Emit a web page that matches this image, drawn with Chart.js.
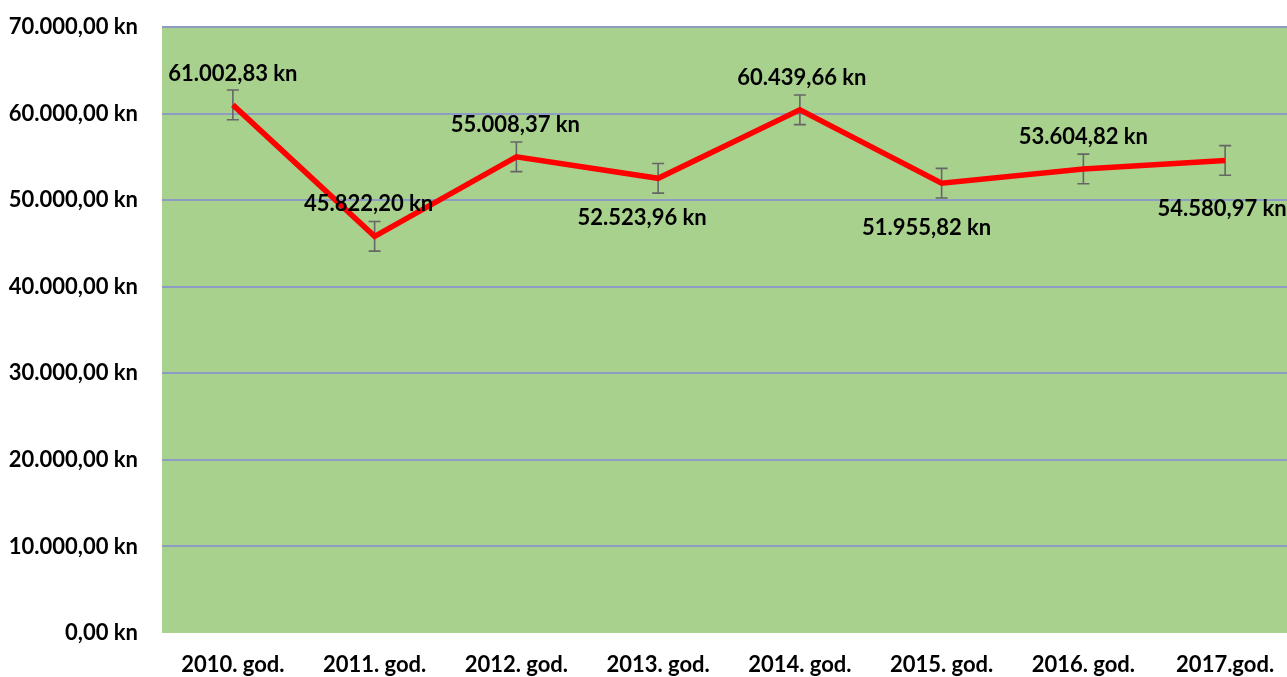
<!DOCTYPE html>
<html>
<head>
<meta charset="utf-8">
<script src="https://cdn.jsdelivr.net/npm/chart.js@4/dist/chart.umd.min.js"></script>
<style>
  html,body{margin:0;padding:0;background:#fff;overflow:hidden;}
  #wrap{width:1300px;height:677px;}
</style>
</head>
<body>
<div id="wrap"><canvas id="chart" width="1300" height="677"></canvas></div>
<script>
const years=["2010. god.","2011. god.","2012. god.","2013. god.","2014. god.","2015. god.","2016. god.","2017.god."];
const amounts=[61002.83,45822.20,55008.37,52523.96,60439.66,51955.82,53604.82,54580.97];
const yTicks=[0,10000,20000,30000,40000,50000,60000,70000];
const errorAmount=1712; // standard error, same for every point
// where each value label sits relative to its point [dx, dy]
const labelShift=[[0,-31],[-6,-32],[-1,-32],[-16,40],[2,-32],[-15,45],[0,-32],[-3,48]];

const fontFam="Lato, 'Open Sans', sans-serif";
const fmt=(v)=>{
    let parts=v.toFixed(2).split(".");
    parts[0]=parts[0].replace(/\B(?=(\d{3})+(?!\d))/g,".");
    return parts[0]+","+parts[1]+" kn";
};

const plotBg={
    id:'plotBg',
    beforeDraw:(chart)=>{
        const {ctx,chartArea:a}=chart;
        ctx.save();
        ctx.fillStyle='#A9D18E';
        ctx.fillRect(a.left,a.top,a.right-a.left,a.bottom-a.top);
        ctx.restore();
    }
};

const errorBars={
    id:'errorBars',
    beforeDatasetsDraw:(chart)=>{
        const ctx=chart.ctx;
        const xs=chart.scales.x, ys=chart.scales.y;
        ctx.save();
        ctx.strokeStyle='#666666';
        ctx.lineWidth=1.6;
        amounts.forEach((v,i)=>{
            let x=xs.getPixelForValue(i);
            let t=ys.getPixelForValue(v+errorAmount);
            let b=ys.getPixelForValue(v-errorAmount);
            ctx.beginPath();
            ctx.moveTo(x,t);ctx.lineTo(x,b);
            ctx.moveTo(x-6,t);ctx.lineTo(x+6,t);
            ctx.moveTo(x-6,b);ctx.lineTo(x+6,b);
            ctx.stroke();
        });
        ctx.restore();
    }
};

const valueLabels={
    id:'valueLabels',
    afterDatasetsDraw:(chart)=>{
        const ctx=chart.ctx;
        const xs=chart.scales.x, ys=chart.scales.y;
        ctx.save();
        ctx.font="bold 22px "+fontFam;
        ctx.fillStyle='#000';
        ctx.textAlign='center';
        ctx.textBaseline='middle';
        amounts.forEach((v,i)=>{
            let x=xs.getPixelForValue(i)+labelShift[i][0];
            let y=ys.getPixelForValue(v)+labelShift[i][1];
            ctx.fillText(fmt(v),x,y);
        });
        ctx.restore();
    }
};

new Chart(document.getElementById('chart'),{
    type:'line',
    data:{
        labels:years,
        datasets:[{
            data:amounts,
            borderColor:'#FF0000',
            borderWidth:5.5,
            pointRadius:0,
            tension:0,
            fill:false
        }]
    },
    options:{
        responsive:false,
        animation:false,
        layout:{padding:{top:27,right:4,left:0,bottom:0}},
        plugins:{legend:{display:false},tooltip:{enabled:false}},
        scales:{
            x:{
                offset:true,
                grid:{display:false},
                border:{display:false},
                afterFit:(axis)=>{axis.height=44;},
                ticks:{color:'#000',font:{family:fontFam,size:22,weight:'bold'},padding:11,maxRotation:0,autoSkip:false}
            },
            y:{
                min:0,max:70000,
                afterBuildTicks:(axis)=>{axis.ticks=yTicks.map(v=>({value:v}));},
                afterFit:(axis)=>{axis.width=162;axis.paddingTop=0;axis.paddingBottom=0;},
                grid:{
                    color:(c)=>c.tick&&c.tick.value===0?'rgba(0,0,0,0)':'#8C9CC2',
                    lineWidth:2,
                    drawTicks:false
                },
                border:{display:false},
                ticks:{color:'#000',font:{family:fontFam,size:22,weight:'bold'},padding:24,callback:(v)=>fmt(v)}
            }
        }
    },
    plugins:[plotBg,errorBars,valueLabels]
});
</script>
</body>
</html>
